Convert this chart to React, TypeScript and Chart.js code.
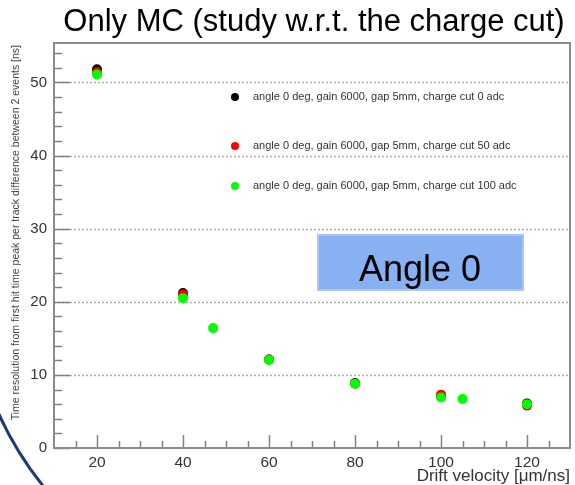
import React, { useEffect, useRef } from "react";
import { Chart, registerables } from "chart.js";

Chart.register(...registerables);

// ---- data ----
const velocityCut0 = [20, 40, 60, 80, 100, 120];
const resolutionCut0 = [51.8, 21.2, 12.1, 8.9, 7.1, 6.1];
const velocityCut50 = [20, 40, 60, 80, 100, 120];
const resolutionCut50 = [51.4, 21.0, 12.1, 8.8, 7.3, 5.8];
const velocityCut100 = [20, 40, 47, 60, 80, 100, 105, 120];
const resolutionCut100 = [51.1, 20.5, 16.4, 12.05, 8.8, 6.9, 6.7, 6.0];

const seriesLabels = [
  "angle 0 deg, gain 6000, gap 5mm, charge cut 0 adc",
  "angle 0 deg, gain 6000, gap 5mm, charge cut 50 adc",
  "angle 0 deg, gain 6000, gap 5mm, charge cut 100 adc",
];
const seriesColors = ["#000000", "#ff0000", "#00ff00"];

const xTickValues = [20, 40, 60, 80, 100, 120];
const yTickValues = [0, 10, 20, 30, 40, 50];

const titleText = "Only MC (study w.r.t. the charge cut)";
const xTitleText = "Drift velocity [\u03bcm/ns]";
const yTitleText =
  "Time resolution from first hit time peak per track difference between 2 events [ns]";
const boxText = "Angle 0";

const FONT = "'Liberation Sans', Arial, Helvetica, sans-serif";

function toPoints(xs: number[], ys: number[]) {
  return xs.map((x, i) => ({ x, y: ys[i] }));
}

const decorPlugin = {
  id: "decor",
  beforeDatasetsDraw(chart: any) {
    const ctx = chart.ctx;
    const { left, right, top, bottom } = chart.chartArea;
    const xs = chart.scales.x;
    const ys = chart.scales.y;
    ctx.save();
    // dotted grid
    ctx.strokeStyle = "#b0b0b0";
    ctx.lineWidth = 1.5;
    ctx.setLineDash([2, 2]);
    for (const v of yTickValues) {
      if (v === 0) continue;
      const y = Math.round(ys.getPixelForValue(v)) + 0.5;
      ctx.beginPath();
      ctx.moveTo(left, y);
      ctx.lineTo(right, y);
      ctx.stroke();
    }
    ctx.setLineDash([]);
    // ticks
    ctx.strokeStyle = "#808080";
    ctx.lineWidth = 1.5;
    for (let v = 0; v <= 55; v += 2) {
      const y = Math.round(ys.getPixelForValue(v)) + 0.5;
      const len = v % 10 === 0 ? 16 : 8;
      ctx.beginPath();
      ctx.moveTo(left, y);
      ctx.lineTo(left + len, y);
      ctx.stroke();
    }
    for (let v = 15; v <= 125; v += 5) {
      const x = Math.round(xs.getPixelForValue(v)) + 0.5;
      const len = v % 20 === 0 ? 13 : 7;
      ctx.beginPath();
      ctx.moveTo(x, bottom);
      ctx.lineTo(x, bottom - len);
      ctx.stroke();
    }
    // frame
    ctx.strokeStyle = "#8c8c8c";
    ctx.lineWidth = 2;
    ctx.strokeRect(left, top, right - left, bottom - top);
    ctx.restore();
  },
  afterDraw(chart: any) {
    const ctx = chart.ctx;
    const { right, top } = chart.chartArea;
    ctx.save();
    // title
    ctx.fillStyle = "#000";
    ctx.font = `31px ${FONT}`;
    ctx.textAlign = "center";
    ctx.textBaseline = "alphabetic";
    ctx.fillText(titleText, 314, 31);
    // x title
    ctx.fillStyle = "#333";
    ctx.font = `17px ${FONT}`;
    ctx.textAlign = "right";
    ctx.fillText(xTitleText, right, 481);
    // y title
    ctx.save();
    ctx.translate(16, top + 2);
    ctx.rotate(-Math.PI / 2);
    ctx.font = `10.5px ${FONT}`;
    ctx.fillStyle = "#444";
    ctx.textAlign = "right";
    ctx.textBaseline = "middle";
    ctx.fillText(yTitleText, 0, 0);
    ctx.restore();
    // legend
    const legendY = [97, 146, 186];
    ctx.font = `11px ${FONT}`;
    ctx.textAlign = "left";
    ctx.textBaseline = "middle";
    seriesLabels.forEach((lab, i) => {
      ctx.fillStyle = seriesColors[i];
      ctx.beginPath();
      ctx.arc(235, legendY[i], 4, 0, Math.PI * 2);
      ctx.fill();
      ctx.fillStyle = "#333";
      ctx.fillText(lab, 253, legendY[i]);
    });
    // Angle box
    ctx.fillStyle = "#87b1f2";
    ctx.fillRect(318, 235, 205, 55);
    ctx.strokeStyle = "#a9c6f6";
    ctx.lineWidth = 2;
    ctx.strokeRect(318, 235, 205, 55);
    ctx.fillStyle = "#000";
    ctx.font = `36px ${FONT}`;
    ctx.textAlign = "center";
    ctx.textBaseline = "alphabetic";
    ctx.fillText(boxText, 420, 281);
    // decorative arc
    ctx.strokeStyle = "#1f3a78";
    ctx.lineWidth = 3;
    ctx.beginPath();
    ctx.arc(310, 272, 342, Math.PI * 0.6, Math.PI * 0.9);
    ctx.stroke();
    ctx.restore();
  },
};

export default function App() {
  const ref = useRef<HTMLCanvasElement | null>(null);
  useEffect(() => {
    if (!ref.current) return;
    const datasets = [
      { label: seriesLabels[0], data: toPoints(velocityCut0, resolutionCut0), order: 2 },
      { label: seriesLabels[1], data: toPoints(velocityCut50, resolutionCut50), order: 1 },
      { label: seriesLabels[2], data: toPoints(velocityCut100, resolutionCut100), order: 0 },
    ].map((d, i) => ({
      ...d,
      backgroundColor: seriesColors[i],
      borderColor: seriesColors[i],
      pointRadius: 5,
      pointBorderWidth: 0,
      showLine: false,
    }));
    const chart = new Chart(ref.current, {
      type: "scatter",
      data: { datasets },
      plugins: [decorPlugin],
      options: {
        animation: false,
        responsive: false,
        devicePixelRatio: 1,
        layout: { padding: { left: 0, right: 3, top: 43, bottom: 0 } },
        plugins: { legend: { display: false }, tooltip: { enabled: false } },
        scales: {
          x: {
            type: "linear",
            min: 10,
            max: 130,
            afterBuildTicks: (s: any) => {
              s.ticks = xTickValues.map((v) => ({ value: v }));
            },
            afterFit: (s: any) => {
              s.height = 37;
            },
            grid: { display: false, drawTicks: false },
            border: { display: false },
            ticks: {
              color: "#333",
              font: { size: 15.5, family: FONT },
              padding: 5,
              maxRotation: 0,
              autoSkip: false,
            },
          },
          y: {
            type: "linear",
            min: 0,
            max: 55.4,
            afterBuildTicks: (s: any) => {
              s.ticks = yTickValues.map((v) => ({ value: v }));
            },
            afterFit: (s: any) => {
              s.width = 54;
            },
            grid: { display: false, drawTicks: false },
            border: { display: false },
            ticks: {
              color: "#333",
              font: { size: 15, family: FONT },
              padding: 7,
              autoSkip: false,
            },
          },
        },
      },
    } as any);
    return () => chart.destroy();
  }, []);
  return (
    <div style={{ position: "absolute", left: 0, top: 0, width: 575, height: 485, background: "#fff" }}>
      <canvas ref={ref} width={575} height={485} style={{ width: 575, height: 485, display: "block" }} />
    </div>
  );
}
